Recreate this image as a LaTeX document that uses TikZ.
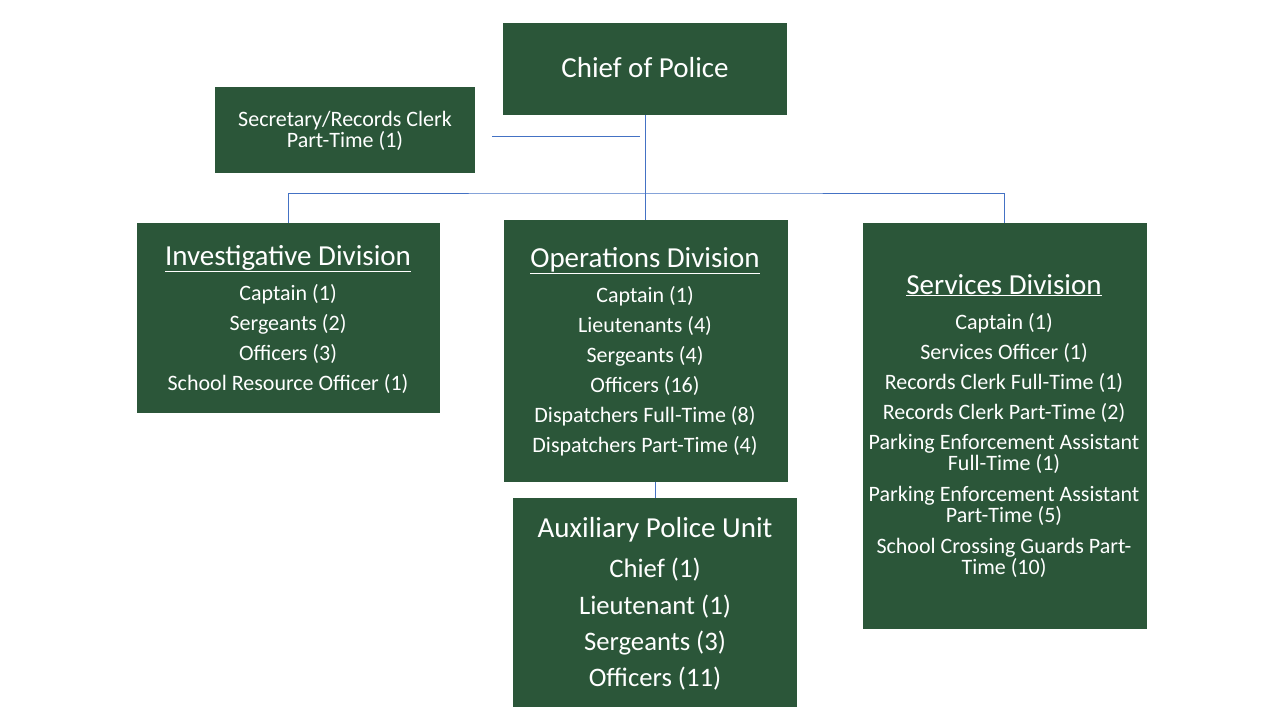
\documentclass[tikz,border=0pt]{standalone}
\usepackage{fontspec}
\setmainfont{Carlito}
\definecolor{boxgreen}{HTML}{2B5639}
\definecolor{linkblue}{HTML}{4472C4}
\tikzset{
  box/.style={fill=boxgreen, draw=none, anchor=north west, inner sep=0pt},
  txt/.style={text=white, inner sep=0pt, anchor=base, font=\fontsize{22}{22}\selectfont},
  two/.style={text=white, inner sep=0pt, anchor=base, align=center, font=\fontsize{22}{21}\selectfont},
  ttl/.style={text=white, inner sep=0pt, anchor=base, font=\fontsize{29}{30}\selectfont},
  big/.style={text=white, inner sep=0pt, anchor=base, font=\fontsize{26.7}{28}\selectfont},
  link/.style={draw=linkblue, line width=1pt},
}
\begin{document}
\begin{tikzpicture}[x=1pt,y=-1pt]
\useasboundingbox (0,0) rectangle (1280,720);
% boxes
\node[box, minimum width=284pt, minimum height=92pt] (chief) at (503,23) {};
\node[box, minimum width=260pt, minimum height=86pt] (sec) at (215,87) {};
\node[box, minimum width=303pt, minimum height=190pt] (inv) at (137,223) {};
\node[box, minimum width=284pt, minimum height=262pt] (ops) at (504,220) {};
\node[box, minimum width=284pt, minimum height=406pt] (srv) at (863,223) {};
\node[box, minimum width=284pt, minimum height=209pt] (aux) at (513,498) {};
% connectors
\coordinate (bus) at (645,193);
\coordinate (secA) at (492,136);
\coordinate (secB) at (640,136);
\draw[link] (secA) -- (secB);
\draw[link] (chief.south -| bus) -- (ops.north -| bus);
\draw[link] (inv.north -| 288,0) |- (bus) -| (srv.north -| 1004,0);
\draw[link] (ops.south -| 655,0) -- (aux.north -| 655,0);
% text (base lines; two-line texts anchored at the last line's base)
\node[ttl] (t1) at (645,77) {Chief of Police};
\node[two] (t2) at (345,147) {Secretary/Records Clerk\\Part-Time (1)};
% investigative
\node[ttl] (i0) at (288,265) {\underline{Investigative Division}};
\node[txt] (i1) at (288,300) {Captain (1)};
\node[txt] (i2) at (288,330) {Sergeants (2)};
\node[txt] (i3) at (288,360) {Officers (3)};
\node[txt] (i4) at (288,390) {School Resource Officer (1)};
% operations
\node[ttl] (o0) at (645,267) {\underline{Operations Division}};
\node[txt] (o1) at (645,302) {Captain (1)};
\node[txt] (o2) at (645,332) {Lieutenants (4)};
\node[txt] (o3) at (645,362) {Sergeants (4)};
\node[txt] (o4) at (645,392) {Officers (16)};
\node[txt] (o5) at (645,422) {Dispatchers Full-Time (8)};
\node[txt] (o6) at (645,452) {Dispatchers Part-Time (4)};
% services
\node[ttl] (s0) at (1004,294) {\underline{Services Division}};
\node[txt] (s1) at (1004,329) {Captain (1)};
\node[txt] (s2) at (1004,359) {Services Officer (1)};
\node[txt] (s3) at (1004,389) {Records Clerk Full-Time (1)};
\node[txt] (s4) at (1004,419) {Records Clerk Part-Time (2)};
\node[two] (s5) at (1004,470) {Parking Enforcement Assistant\\Full-Time (1)};
\node[two] (s6) at (1004,522) {Parking Enforcement Assistant\\Part-Time (5)};
\node[two] (s7) at (1004,574) {School Crossing Guards Part-\\Time (10)};
% auxiliary
\node[ttl] (a0) at (655,537) {Auxiliary Police Unit};
\node[big] (a1) at (655,577) {Chief (1)};
\node[big] (a2) at (655,614) {Lieutenant (1)};
\node[big] (a3) at (655,650) {Sergeants (3)};
\node[big] (a4) at (655,686) {Officers (11)};
\end{tikzpicture}
\end{document}
